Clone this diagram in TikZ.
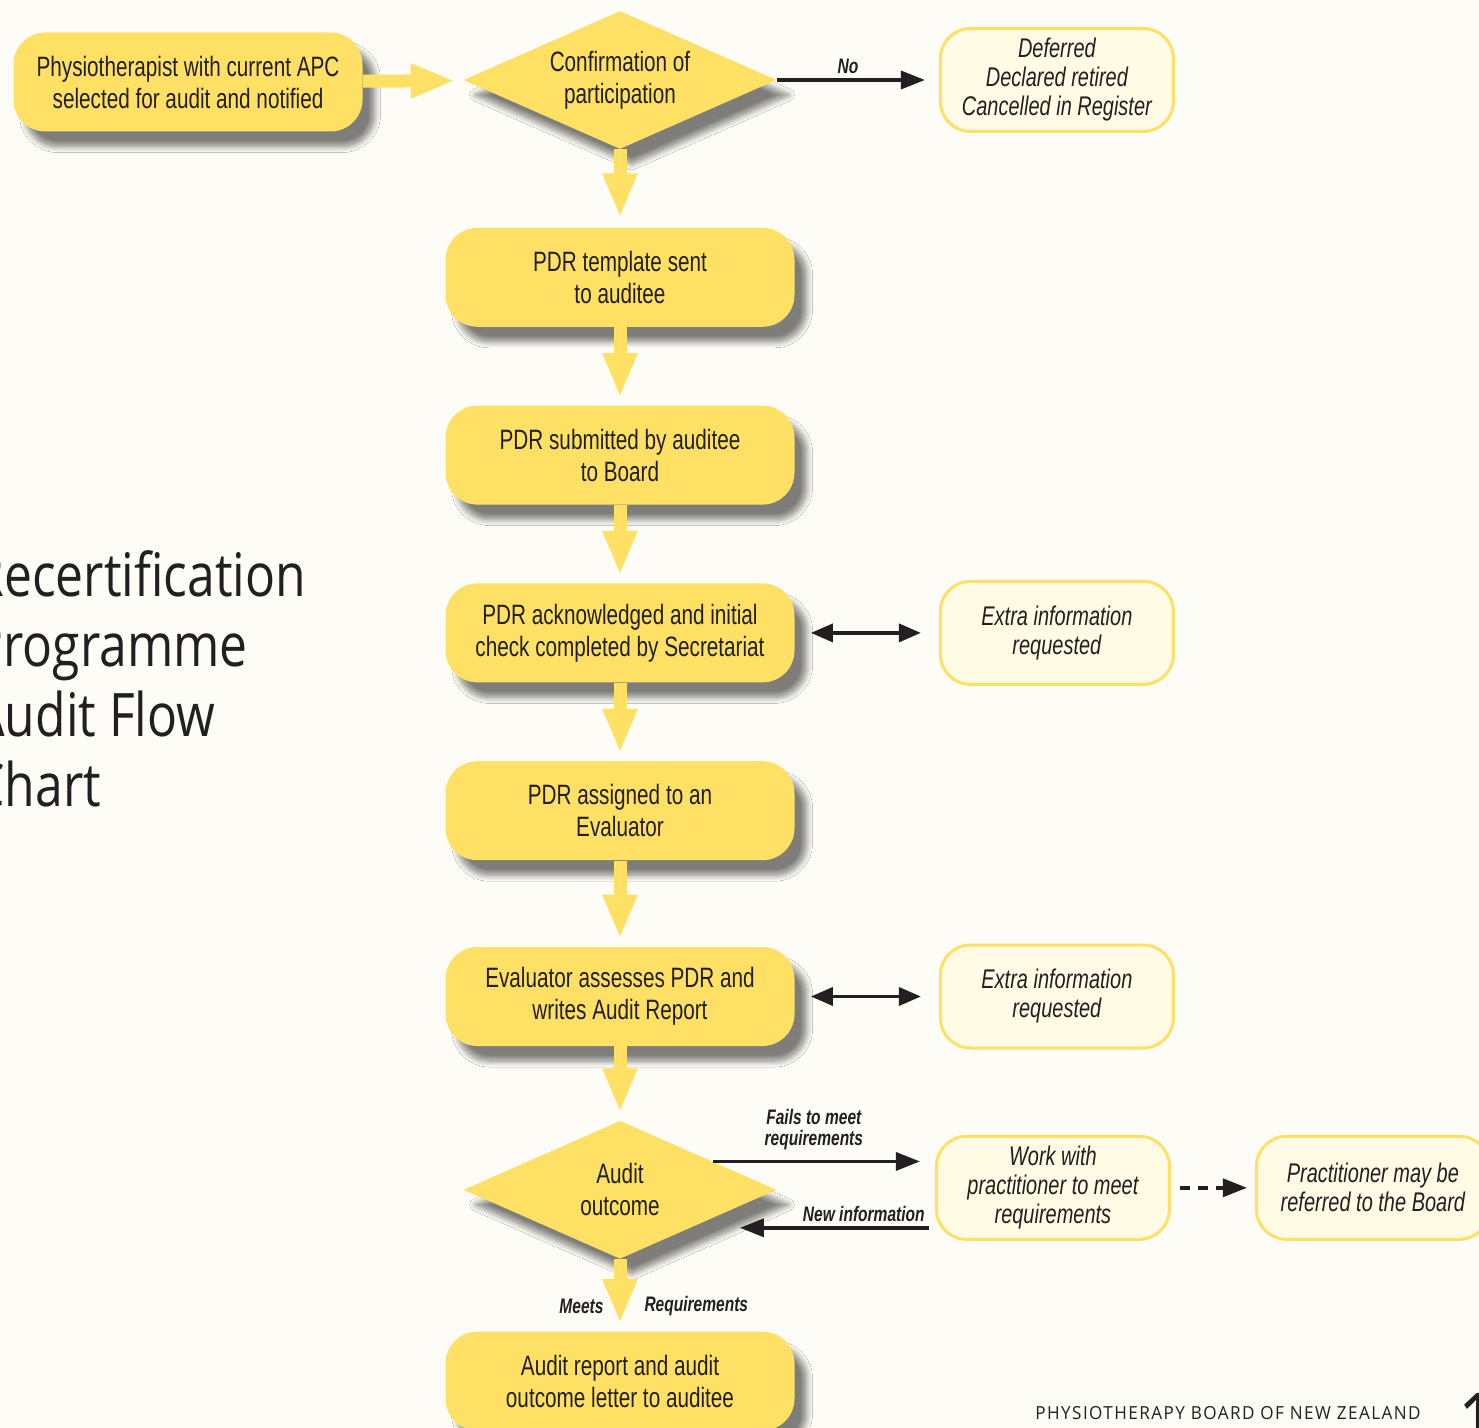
\documentclass[tikz,border=0pt]{standalone}
\usepackage{fontspec}
\setmainfont{Liberation Sans}[FakeStretch=0.74]
\newfontfamily\titlefont{Open Sans}[FakeStretch=0.83]
\newfontfamily\footfont{Open Sans}[LetterSpace=8,FakeStretch=0.95]
\usetikzlibrary{arrows.meta, positioning, shapes.geometric, shadows.blur, calc}

\definecolor{flowyellow}{RGB}{254,225,100}
\definecolor{infocream}{RGB}{255,251,229}
\definecolor{pagecream}{RGB}{253,252,246}
\definecolor{inkdark}{RGB}{35,31,32}

\begin{document}
\begin{tikzpicture}[
	  x=0.5pt, y=-0.5pt,
	  node distance=39pt and 72pt,
	  text=inkdark,
	  boxfont/.style={font=\fontsize{14}{16}\selectfont},
	  boxshadow/.style={blur shadow={shadow xshift=6pt, shadow yshift=-7.5pt, shadow blur radius=3pt, shadow blur steps=8, shadow opacity=50}},
	  stepbox/.style={
	    boxfont,
	    boxshadow,
	    fill=flowyellow,
	    rounded corners=16pt,
	    align=center,
	    minimum width=174.5pt,
	    minimum height=49.5pt
	  },
	  decision/.style={boxfont, boxshadow, diamond, shape aspect=2.2, fill=flowyellow, align=center, inner sep=0pt, minimum width=156.5pt, minimum height=69pt},
	  infobox/.style={
	    font=\fontsize{13.5}{14.5}\selectfont\itshape,
	    fill=infocream,
	    draw=flowyellow,
	    line width=1.5pt,
	    rounded corners=15pt,
	    align=center,
	    minimum width=116.5pt,
	    minimum height=51.5pt
	  },
	  edgelabel/.style={font=\fontsize{10.5}{10.5}\selectfont\bfseries\itshape, inner sep=2pt, align=center},
	  yarrow/.style={draw=flowyellow, line width=6.5pt, -{Triangle[length=22pt,width=16pt]}},
	  arrow/.style={draw=inkdark, line width=1.8pt, -{Triangle[length=12pt,width=9pt]}},
	  twoway/.style={arrow, {Triangle[length=11pt,width=9pt]}-{Triangle[length=11pt,width=9pt]}},
	  dashedarrow/.style={arrow, dash pattern=on 5pt off 4pt}
	]
	
	\fill[pagecream] (0,0) rectangle (1479,1428);
	\useasboundingbox (0,0) rectangle (1479,1428);
	
	\node[font=\titlefont\fontsize{30}{35}\selectfont, align=left, anchor=north west, inner sep=0pt] (title) at (-27,550) {Recertification\\Programme\\Audit Flow\\Chart};
	
	\node[stepbox] (apc) at (188,82) {Physiotherapist with current APC\\selected for audit and notified};
	\node[decision] (confirm) at (620,80) {Confirmation of\\participation};
	\node[infobox, right=81pt of confirm] (deferred) {Deferred\\Declared retired\\Cancelled in Register};
	
	\node[stepbox, below=of confirm] (template) {PDR template sent\\to auditee};
	\node[stepbox, below=of template] (submitted) {PDR submitted by auditee\\to Board};
	\node[stepbox, below=of submitted] (check) {PDR acknowledged and initial\\check completed by Secretariat};
	\node[infobox, right=of check] (extra1) {Extra information\\requested};
	\node[stepbox, below=of check] (assigned) {PDR assigned to an\\Evaluator};
	\node[stepbox, below=of assigned, yshift=-4pt] (assess) {Evaluator assesses PDR and\\writes Audit Report};
	\node[infobox, right=of assess] (extra2) {Extra information\\requested};
	
	\node[decision, below=of assess, yshift=2pt] (outcome) {Audit\\outcome};
	\node[infobox, right=79pt of outcome, yshift=1pt] (work) {Work with\\practitioner to meet\\requirements};
	\node[infobox, right=42pt of work] (referred) {Practitioner may be\\referred to the Board};
	\node[stepbox, below=of outcome, yshift=3pt] (letter) {Audit report and audit\\outcome letter to auditee};
	
	\node[font=\footfont\fontsize{9}{9}\selectfont] (footer) at (1228,1413) {PHYSIOTHERAPY BOARD OF NEW ZEALAND};
	\node[font=\titlefont\fontsize{40}{40}\selectfont, anchor=base west, inner sep=0pt] (pageno) at (1458,1450) {1};
	
	\draw[yarrow, shorten >=5pt] (apc) -- (confirm);
	\draw[arrow, shorten >=7pt] (confirm) -- node[edgelabel, above, xshift=-5pt] {No} (deferred);
	\draw[yarrow, shorten >=5pt] (confirm) -- (template);
	\draw[yarrow, shorten >=4pt] (template) -- (submitted);
	\draw[yarrow, shorten >=4pt] (submitted) -- (check);
	\draw[twoway, shorten <=8pt, shorten >=9pt] (check) -- (extra1);
	\draw[yarrow, shorten >=4pt] (check) -- (assigned);
	\draw[yarrow, shorten >=4pt] (assigned) -- (assess);
	\draw[twoway, shorten <=8pt, shorten >=9pt] (assess) -- (extra2);
	\draw[yarrow, shorten >=4pt] (assess) -- (outcome);
	
	\coordinate (newinfo) at ([yshift=-20pt]work.west);
	\draw[arrow, shorten >=7.5pt] (outcome.17) -- node[edgelabel, above, xshift=-5pt, yshift=3pt] {Fails to meet\\requirements} (outcome.17 -| work.west);
	\draw[arrow, shorten <=3pt, shorten >=-18.5pt] (newinfo) -- node[edgelabel, above, pos=0.45] {New information} (newinfo -| outcome.east);
	\draw[dashedarrow, shorten <=4.5pt, shorten >=4pt] (work) -- (referred);
	\draw[yarrow, shorten >=4pt] (outcome) -- node[edgelabel, left, pos=0.65, xshift=-3pt] {Meets} node[edgelabel, right, pos=0.65, xshift=7pt] {Requirements} (letter);
	
	\end{tikzpicture}
\end{document}
